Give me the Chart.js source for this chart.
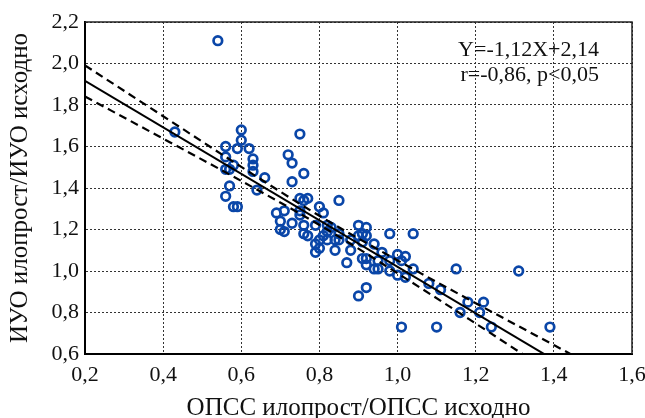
<!DOCTYPE html>
<html>
<head>
<meta charset="utf-8">
<script src="https://cdn.jsdelivr.net/npm/chart.js@4/dist/chart.umd.min.js"></script>
<style>
  body { margin: 0; background: #fff; }
  #wrap { width: 645px; height: 418px; }
</style>
</head>
<body>
<div id="wrap"><canvas id="scatter" width="645" height="418"></canvas></div>
<script>
// ОПСС (x) vs ИУО (y), one pair per patient
const opss = [
  0.54, 0.43, 0.60, 0.60, 0.75, 0.56, 0.59, 0.62, 0.56, 0.63,
  0.72, 0.73, 0.58, 0.63, 0.56, 0.57, 0.63, 0.76, 0.66, 0.73,
  0.57, 0.64, 0.56, 0.75, 0.76, 0.77, 0.58, 0.59, 0.69, 0.71,
  0.75, 0.75, 0.80, 0.81, 0.85, 0.70, 0.73, 0.76, 0.79, 0.82,
  0.83, 0.90, 0.92, 0.70, 0.71, 0.82, 0.76, 0.77, 0.85, 0.91,
  0.92, 0.81, 0.80, 0.82, 0.84, 0.85, 0.88, 0.90, 0.91, 0.79,
  0.80, 0.79, 0.84, 0.88, 0.91, 0.92, 0.87, 0.94, 0.98, 1.04,
  0.96, 0.92, 0.95, 0.98, 1.00, 1.02, 1.01, 0.94, 0.95, 0.98,
  1.00, 1.02, 1.04, 1.08, 1.11, 1.15, 0.92, 0.90, 1.31, 1.18,
  1.22, 1.16, 1.21, 1.10, 1.24, 1.39, 1.01
];
const iuo = [
  2.11, 1.67, 1.68, 1.63, 1.66, 1.60, 1.59, 1.59, 1.55, 1.54,
  1.56, 1.52, 1.51, 1.51, 1.49, 1.49, 1.48, 1.47, 1.45, 1.43,
  1.41, 1.39, 1.36, 1.35, 1.34, 1.35, 1.31, 1.31, 1.28, 1.29,
  1.29, 1.27, 1.31, 1.28, 1.34, 1.24, 1.23, 1.22, 1.22, 1.22,
  1.21, 1.22, 1.21, 1.20, 1.19, 1.19, 1.18, 1.17, 1.18, 1.18,
  1.17, 1.17, 1.15, 1.15, 1.15, 1.15, 1.15, 1.17, 1.14, 1.13,
  1.11, 1.09, 1.10, 1.10, 1.06, 1.03, 1.04, 1.13, 1.18, 1.18,
  1.09, 1.06, 1.05, 1.05, 1.08, 1.07, 1.05, 1.01, 1.01, 1.00,
  0.98, 0.97, 1.01, 0.94, 0.91, 1.01, 0.92, 0.88, 1.00, 0.85,
  0.85, 0.80, 0.80, 0.73, 0.73, 0.73, 0.73
];

// regression and its confidence band
const regSlope = -1.12;
const regIntercept = 2.14;
const corrR = -0.86;
const bandX = [0.2, 0.4, 0.6, 0.8, 1.0, 1.2, 1.4, 1.5];
const bandUpper = [1.991, 1.746, 1.502, 1.266, 1.051, 0.845, 0.643, 0.542];
const bandLower = [1.841, 1.638, 1.434, 1.222, 0.989, 0.747, 0.501, 0.378];

const xTicks = [0.2, 0.4, 0.6, 0.8, 1.0, 1.2, 1.4, 1.6];
const yTicks = [0.6, 0.8, 1.0, 1.2, 1.4, 1.6, 1.8, 2.0, 2.2];

const serif = '"Liberation Serif", "Times New Roman", serif';
const comma = v => v.toFixed(1).replace('.', ',');
const num2 = v => v.toFixed(2).replace('.', ',');

const eqLabel = 'Y=' + num2(regSlope) + 'X+' + num2(regIntercept);
const corrLabel = 'r=' + num2(corrR) + ', p<0,05';

const points = opss.map((x, i) => ({ x: x, y: iuo[i] }));
const regLine = [xTicks[0], xTicks[xTicks.length - 1]].map(x => ({ x: x, y: regSlope * x + regIntercept }));
const upper = bandX.map((x, i) => ({ x: x, y: bandUpper[i] }));
const lower = bandX.map((x, i) => ({ x: x, y: bandLower[i] }));

// top and right edges of the plot frame
const frame = {
  id: 'frame',
  beforeDatasetsDraw(chart) {
    const { ctx, chartArea: a } = chart;
    ctx.save();
    ctx.strokeStyle = '#222';
    ctx.lineWidth = 1.5;
    ctx.beginPath();
    ctx.moveTo(a.left, a.top);
    ctx.lineTo(a.right, a.top);
    ctx.lineTo(a.right, a.bottom);
    ctx.stroke();
    ctx.restore();
  }
};

const statsText = {
  id: 'statsText',
  afterDatasetsDraw(chart) {
    const { ctx, chartArea: a } = chart;
    ctx.save();
    ctx.font = '22px ' + serif;
    ctx.fillStyle = '#111';
    ctx.textAlign = 'right';
    ctx.textBaseline = 'middle';
    ctx.fillText(eqLabel, a.right - 33, a.top + 28);
    ctx.fillText(corrLabel, a.right - 33, a.top + 53);
    ctx.restore();
  }
};

const bandStyle = {
  type: 'line',
  borderColor: '#000',
  borderWidth: 2.2,
  borderDash: [8, 5],
  pointRadius: 0,
  fill: false,
  cubicInterpolationMode: 'monotone'
};

new Chart(document.getElementById('scatter'), {
  type: 'scatter',
  data: {
    datasets: [
      {
        data: points,
        pointStyle: 'circle',
        pointRadius: 4.3,
        borderWidth: 2.7,
        borderColor: '#0a46a8',
        backgroundColor: 'rgba(255,255,255,0)',
        order: 3
      },
      {
        type: 'line',
        data: regLine,
        borderColor: '#000',
        borderWidth: 2,
        pointRadius: 0,
        fill: false,
        order: 1
      },
      Object.assign({ data: upper, order: 2 }, bandStyle),
      Object.assign({ data: lower, order: 2 }, bandStyle)
    ]
  },
  options: {
    responsive: false,
    animation: false,
    layout: { padding: { top: 22, right: 13, left: 0, bottom: 0 } },
    plugins: { legend: { display: false }, tooltip: { enabled: false } },
    scales: {
      x: {
        type: 'linear',
        min: 0.2,
        max: 1.6,
        afterBuildTicks: s => { s.ticks = xTicks.map(v => ({ value: v })); },
        afterFit: s => { s.height = 64; s.paddingLeft = 0; s.paddingRight = 0; },
        ticks: {
          callback: v => comma(v),
          color: '#111',
          padding: 8,
          font: { family: serif, size: 22 },
          maxRotation: 0
        },
        grid: { color: '#333', lineWidth: 1, drawTicks: false },
        border: { color: '#000', width: 2, dash: [2, 2] },
        title: {
          display: true,
          text: 'ОПСС илопрост/ОПСС исходно',
          color: '#111',
          font: { family: serif, size: 25 },
          padding: { top: 0, bottom: -5 }
        }
      },
      y: {
        type: 'linear',
        min: 0.6,
        max: 2.2,
        afterBuildTicks: s => { s.ticks = yTicks.map(v => ({ value: v })); },
        afterFit: s => { s.width = 85; s.paddingTop = 0; s.paddingBottom = 0; },
        ticks: {
          callback: v => comma(v),
          color: '#111',
          padding: 6,
          font: { family: serif, size: 22 }
        },
        grid: { color: '#333', lineWidth: 1, drawTicks: false },
        border: { color: '#000', width: 2, dash: [2, 2] },
        title: {
          display: true,
          text: 'ИУО илопрост/ИУО исходно',
          color: '#111',
          font: { family: serif, size: 25 },
          padding: { top: 5, bottom: 0 }
        }
      }
    }
  },
  plugins: [frame, statsText]
});
</script>
</body>
</html>
